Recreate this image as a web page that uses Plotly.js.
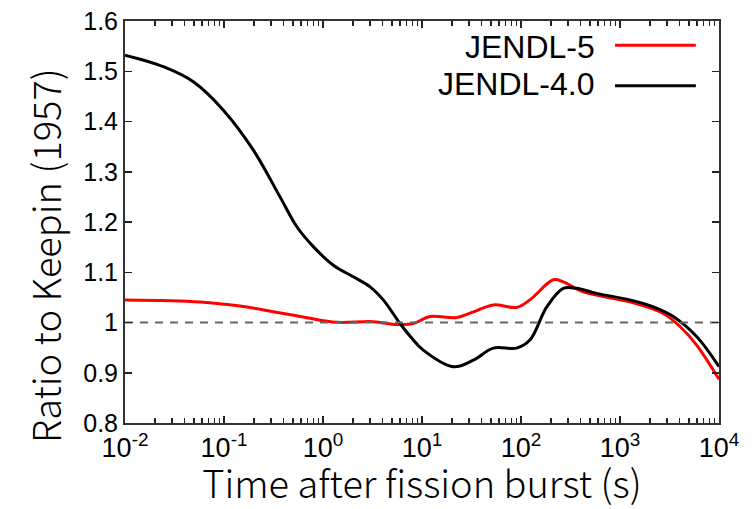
<!DOCTYPE html>
<html>
<head>
<meta charset="utf-8">
<script src="https://cdn.plot.ly/plotly-3.0.1.min.js"></script>
<style>html,body{margin:0;padding:0;background:#fff;}#chart{width:754px;height:509px;}</style>
</head>
<body>
<div id="chart"></div>
<script>
// JENDL-4.0 (black)
const timeJ40 = [0.01, 0.0244, 0.049, 0.098, 0.198, 0.368, 0.542, 0.798, 1.27, 2.02, 2.99, 4.06, 6.0, 7.87, 10.3, 20.7, 33.0, 52.5, 90.4, 123, 182, 267, 365, 581, 1259, 2168, 3451, 5943, 10000];
const ratioJ40 = [1.532, 1.509, 1.479, 1.423, 1.343, 1.250, 1.191, 1.151, 1.114, 1.091, 1.071, 1.045, 0.998, 0.969, 0.945, 0.912, 0.925, 0.949, 0.949, 0.965, 1.031, 1.068, 1.068, 1.058, 1.045, 1.031, 1.012, 0.972, 0.912];
// JENDL-5 (red)
const timeJ5 = [0.01, 0.0575, 0.145, 0.315, 0.684, 1.37, 3.22, 5.55, 8.17, 12.0, 22.4, 33.1, 52.5, 90.4, 123, 212, 267, 426, 1259, 2735, 4036, 5943, 10000];
const ratioJ5 = [1.045, 1.041, 1.0328, 1.0215, 1.0096, 1.0004, 1.0016, 0.996, 0.998, 1.012, 1.010, 1.021, 1.035, 1.030, 1.045, 1.085, 1.081, 1.061, 1.041, 1.018, 0.992, 0.955, 0.887];
// Reference line (ratio = 1)
const refTime = [0.01, 10000];
const refRatio = [1, 1];
const seriesNames = ["JENDL-5", "JENDL-4.0"];
const xTickVals = [0.01, 0.1, 1, 10, 100, 1000, 10000];
const xTickText = ["10<sup>-2</sup>", "10<sup>-1</sup>", "10<sup>0</sup>", "10<sup>1</sup>", "10<sup>2</sup>", "10<sup>3</sup>", "10<sup>4</sup>"];
const yTickVals = [0.8, 0.9, 1.0, 1.1, 1.2, 1.3, 1.4, 1.5, 1.6];
const yTickText = ["0.8", "0.9", "1", "1.1", "1.2", "1.3", "1.4", "1.5", "1.6"];
const xTitle = 'Time after fission burst (s)';
const yTitle = 'Ratio to Keepin (1957)';

// minor log ticks (2..9 in each decade)
const minorX = [];
for (let k = 0; k < xTickVals.length - 1; k++) {
  for (let d = 2; d <= 9; d++) minorX.push(d * xTickVals[k]);
}

const traces = [
  {x: refTime, y: refRatio, xaxis: 'x2', mode: 'lines', line: {color: '#666', width: 2, dash: '8px,7px'}, hoverinfo: 'skip', showlegend: false},
  {x: timeJ5, y: ratioJ5, name: seriesNames[0], mode: 'lines', line: {color: '#ff0000', width: 3, shape: 'spline', smoothing: 1}},
  {x: timeJ40, y: ratioJ40, name: seriesNames[1], mode: 'lines', line: {color: '#000000', width: 3, shape: 'spline', smoothing: 1}}
];

const legendFont = {family: 'Liberation Sans, Arial, sans-serif', size: 32, color: '#000'};
const titleFont = {family: 'Noto Sans CJK JP, sans-serif', size: 38, color: '#000', weight: 300};
const layout = {
  width: 754, height: 509,
  margin: {l: 125, r: 35, t: 21, b: 86},
  paper_bgcolor: '#fff', plot_bgcolor: '#fff',
  showlegend: false,
  xaxis: {
    type: 'log', range: [-2, 4],
    tickmode: 'array', tickvals: xTickVals, ticktext: xTickText,
    ticks: 'inside', ticklen: 7, tickwidth: 1.5, tickcolor: '#222',
    showline: true, linecolor: '#333', linewidth: 2, mirror: 'ticks',
    showgrid: false, zeroline: false,
    tickfont: {family: 'Liberation Sans, Arial, sans-serif', size: 27, color: '#000'},
    title: {text: xTitle, font: titleFont}
  },
  xaxis2: {
    type: 'log', range: [-2, 4], overlaying: 'x', anchor: 'y', side: 'bottom',
    tickmode: 'array', tickvals: minorX, ticktext: minorX.map(() => ''), showticklabels: false,
    ticks: 'inside', ticklen: 5, tickwidth: 1.5, tickcolor: '#222',
    showline: false, mirror: 'ticks', showgrid: false, zeroline: false
  },
  yaxis: {
    range: [0.8, 1.6],
    tickvals: yTickVals, ticktext: yTickText,
    ticks: 'inside', ticklen: 7, tickwidth: 1.5, tickcolor: '#222',
    showline: true, linecolor: '#333', linewidth: 2, mirror: 'ticks',
    showgrid: false, zeroline: false,
    tickfont: {family: 'Liberation Sans, Arial, sans-serif', size: 25, color: '#000'}
  },
  annotations: [
    {xref: 'paper', yref: 'paper', x: -0.1347, y: 0.418, xanchor: 'center', yanchor: 'middle', textangle: -90, text: yTitle, showarrow: false, font: titleFont},
    {xref: 'paper', yref: 'paper', x: 0.795, y: 0.935, xanchor: 'right', yanchor: 'middle', text: seriesNames[0], showarrow: false, font: legendFont},
    {xref: 'paper', yref: 'paper', x: 0.795, y: 0.843, xanchor: 'right', yanchor: 'middle', text: seriesNames[1], showarrow: false, font: legendFont}
  ],
  shapes: [
    {type: 'line', xref: 'paper', yref: 'paper', x0: 0.825, x1: 0.961, y0: 0.9395, y1: 0.9395, line: {color: '#ff0000', width: 3}},
    {type: 'line', xref: 'paper', yref: 'paper', x0: 0.825, x1: 0.961, y0: 0.839, y1: 0.839, line: {color: '#000000', width: 3}}
  ]
};
Plotly.newPlot('chart', traces, layout, {displayModeBar: false, staticPlot: true});
</script>
</body>
</html>
